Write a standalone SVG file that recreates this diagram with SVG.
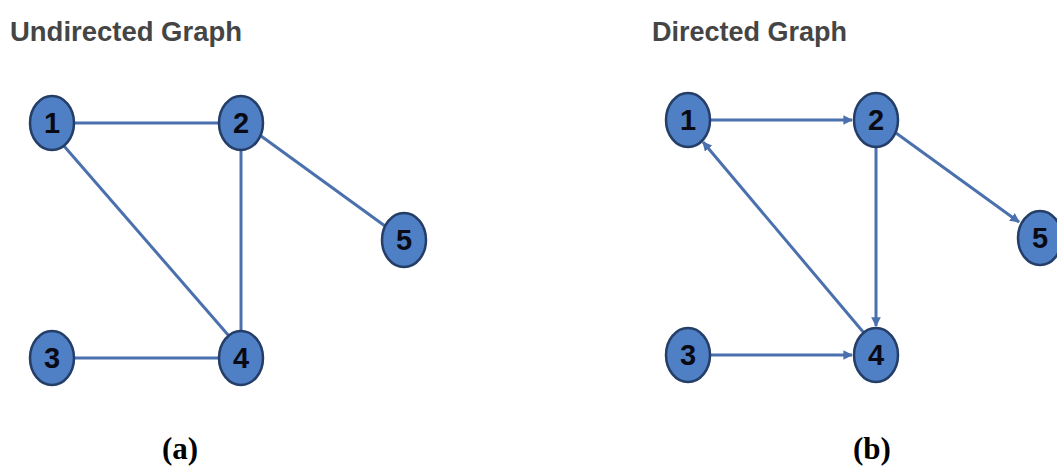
<svg xmlns="http://www.w3.org/2000/svg" width="1057" height="467" viewBox="0 0 1057 467">
<style>
.title{font-family:"Liberation Sans",Arial,sans-serif;font-weight:bold;font-size:28px;fill:#454545}
.cap{font-family:"Liberation Serif","Times New Roman",serif;font-weight:bold;font-size:31px;fill:#000}
.node ellipse{fill:#4f7fc4;stroke:#243e68;stroke-width:2.5}
.node text{font-family:"Liberation Sans",Arial,sans-serif;font-weight:bold;font-size:29px;fill:#0a0a14;text-anchor:middle}
.edge{stroke:#4a70ad;stroke-width:3;fill:none}
.arr{marker-end:url(#ah)}
</style>
<defs>
<marker id="ah" viewBox="0 0 10 10" refX="9" refY="5" markerWidth="3.2" markerHeight="3.2" orient="auto" markerUnits="strokeWidth">
<path d="M0,0 L10,5 L0,10 z" fill="#4a70ad"/>
</marker>
</defs>
<rect width="1057" height="467" fill="#fff"/>
<text class="title" x="10" y="41" textLength="232" lengthAdjust="spacingAndGlyphs">Undirected Graph</text>
<text class="title" x="652" y="41" textLength="195" lengthAdjust="spacingAndGlyphs">Directed Graph</text>
<g id="connectors">
<line class="edge" x1="74" y1="123" x2="219" y2="123"/>
<line class="edge" x1="64" y1="146" x2="229" y2="336"/>
<line class="edge" x1="241" y1="150" x2="241" y2="331"/>
<line class="edge" x1="261" y1="136" x2="385" y2="226"/>
<line class="edge" x1="74" y1="358" x2="219" y2="358"/>
<line class="edge arr" x1="710" y1="120" x2="852" y2="120"/>
<line class="edge arr" x1="876" y1="147" x2="876" y2="326"/>
<line class="edge arr" x1="896" y1="133" x2="1019" y2="222"/>
<line class="edge arr" x1="710" y1="355" x2="852" y2="355"/>
<line class="edge arr" x1="864" y1="333" x2="703" y2="142"/>
</g>
<g id="a1" class="node"><ellipse cx="52" cy="123" rx="22" ry="27"/><text x="52" y="133">1</text></g>
<g id="a2" class="node"><ellipse cx="241" cy="123" rx="22" ry="27"/><text x="241" y="133">2</text></g>
<g id="a5" class="node"><ellipse cx="404" cy="240" rx="22" ry="27"/><text x="404" y="250">5</text></g>
<g id="a3" class="node"><ellipse cx="52" cy="358" rx="22" ry="27"/><text x="52" y="368">3</text></g>
<g id="a4" class="node"><ellipse cx="241" cy="358" rx="22" ry="27"/><text x="241" y="368">4</text></g>
<g id="b1" class="node"><ellipse cx="688" cy="120" rx="22" ry="27"/><text x="688" y="130">1</text></g>
<g id="b2" class="node"><ellipse cx="876" cy="120" rx="22" ry="27"/><text x="876" y="130">2</text></g>
<g id="b5" class="node"><ellipse cx="1040" cy="238" rx="22" ry="27"/><text x="1040" y="248">5</text></g>
<g id="b3" class="node"><ellipse cx="688" cy="355" rx="22" ry="27"/><text x="688" y="365">3</text></g>
<g id="b4" class="node"><ellipse cx="876" cy="355" rx="22" ry="27"/><text x="876" y="365">4</text></g>
<text class="cap" x="162" y="459">(a)</text>
<text class="cap" x="853" y="459">(b)</text>
</svg>
